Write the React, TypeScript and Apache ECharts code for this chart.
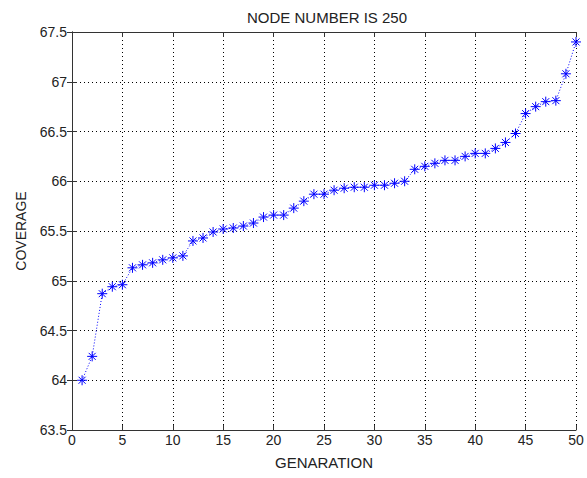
import React, { useEffect, useRef } from "react";
import * as echarts from "echarts";

const generations: number[] = Array.from({ length: 50 }, (_, i) => i + 1);
const coverage: number[] = [
  64.0, 64.24, 64.87, 64.94, 64.96, 65.13, 65.16, 65.18, 65.21, 65.23,
  65.25, 65.4, 65.43, 65.49, 65.52, 65.53, 65.55, 65.58, 65.64, 65.66,
  65.66, 65.73, 65.8, 65.87, 65.87, 65.91, 65.93, 65.94, 65.94, 65.96,
  65.96, 65.98, 66.0, 66.12, 66.15, 66.18, 66.21, 66.21, 66.25, 66.28,
  66.28, 66.33, 66.39, 66.48, 66.68, 66.75, 66.8, 66.81, 67.08, 67.4,
];
const titleText = "NODE NUMBER IS 250";
const xName = "GENARATION";
const yName = "COVERAGE";

const asterisk =
  "path://M0,-10 L0,10 M-10,0 L10,0 M-7,-7 L7,7 M-7,7 L7,-7";

export default function App() {
  const ref = useRef<HTMLDivElement>(null);
  useEffect(() => {
    if (!ref.current) return;
    const chart = echarts.init(ref.current, undefined, { renderer: "svg" });
    const font = "Liberation Sans, Arial, sans-serif";
    const textColor = "#222";
    const axisColor = "#333";
    const gridLine = { show: true, lineStyle: { color: "#000", type: [1, 3] as any, width: 1 } };
    chart.setOption({
      animation: false,
      backgroundColor: "#fff",
      title: {
        text: titleText,
        left: 322,
        top: 5,
        textAlign: "center",
        textStyle: { fontSize: 15, fontWeight: "normal", color: textColor, fontFamily: font },
      },
      grid: { left: 72, right: 11, top: 32, bottom: 48, containLabel: false },
      xAxis: [
        {
          type: "value",
          min: 0,
          max: 50,
          interval: 5,
          name: xName,
          nameLocation: "middle",
          nameGap: 25,
          nameTextStyle: { fontSize: 15, color: textColor, fontFamily: font },
          axisLine: { show: true, lineStyle: { color: axisColor, width: 1 } },
          axisTick: { show: true, inside: true, length: 5, lineStyle: { color: axisColor } },
          axisLabel: { fontSize: 14, color: textColor, fontFamily: font, margin: 3 },
          splitLine: gridLine,
        },
        {
          type: "value",
          position: "top",
          min: 0,
          max: 50,
          interval: 5,
          axisLine: { show: true, lineStyle: { color: axisColor, width: 1 } },
          axisTick: { show: true, inside: true, length: 5, lineStyle: { color: axisColor } },
          axisLabel: { show: false },
          splitLine: { show: false },
        },
      ],
      yAxis: [
        {
          type: "value",
          min: 63.5,
          max: 67.5,
          interval: 0.5,
          name: yName,
          nameLocation: "middle",
          nameGap: 44,
          nameRotate: 90,
          nameTextStyle: { fontSize: 14, color: textColor, fontFamily: font },
          axisLine: { show: true, lineStyle: { color: axisColor, width: 1 } },
          axisTick: { show: true, inside: true, length: 5, lineStyle: { color: axisColor } },
          axisLabel: { fontSize: 14, color: textColor, fontFamily: font, margin: 5 },
          splitLine: gridLine,
        },
        {
          type: "value",
          position: "right",
          min: 63.5,
          max: 67.5,
          interval: 0.5,
          axisLine: { show: true, lineStyle: { color: axisColor, width: 1 } },
          axisTick: { show: true, inside: true, length: 5, lineStyle: { color: axisColor } },
          axisLabel: { show: false },
          splitLine: { show: false },
        },
      ],
      series: [
        {
          type: "line",
          data: generations.map((g, i) => [g, coverage[i]]),
          lineStyle: { color: "#0000ff", width: 1, type: [1, 2] as any },
          symbol: asterisk,
          symbolSize: 10,
          itemStyle: { color: "none", borderColor: "#0000ff", borderWidth: 1 },
          showSymbol: true,
        },
      ],
    });
    return () => chart.dispose();
  }, []);
  return (
    <div
      ref={ref}
      style={{ position: "fixed", left: 0, top: 0, width: 587, height: 478, background: "#fff" }}
    />
  );
}
